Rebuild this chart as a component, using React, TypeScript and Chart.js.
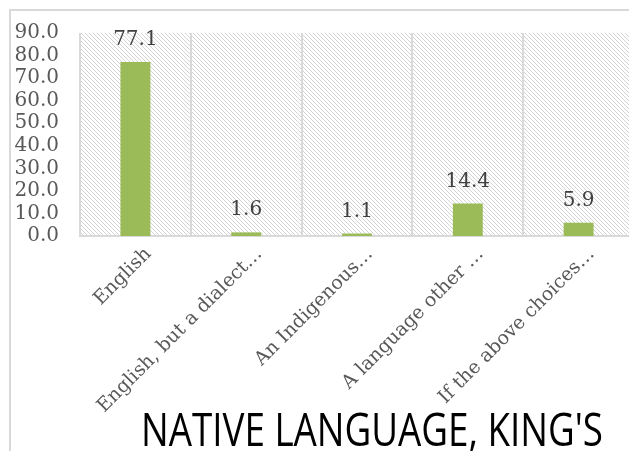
import React, { useEffect, useRef } from "react";
import { Chart, registerables } from "chart.js";

Chart.register(...registerables);

const categories = [
  "English",
  "English, but a dialect…",
  "An Indigenous…",
  "A language other …",
  "If the above choices…",
];
const values = [77.1, 1.6, 1.1, 14.4, 5.9];
const yTicks = [0, 10, 20, 30, 40, 50, 60, 70, 80, 90];
const titleText = "NATIVE LANGUAGE, KING'S";

const SERIF = "'DejaVu Serif', serif";

function makePattern(): CanvasPattern | string {
  const c = document.createElement("canvas");
  c.width = 4;
  c.height = 4;
  const x = c.getContext("2d");
  if (!x) return "#f0f0f0";
  x.fillStyle = "#ffffff";
  x.fillRect(0, 0, 4, 4);
  x.fillStyle = "#d4d4d4";
  for (let i = 0; i < 4; i++) x.fillRect(i, i, 1, 1);
  const p = x.createPattern(c, "repeat");
  return p || "#f0f0f0";
}

const bgPlugin = {
  id: "hatchBg",
  beforeDraw(chart: any) {
    const { ctx, chartArea } = chart;
    ctx.save();
    ctx.fillStyle = makePattern();
    ctx.fillRect(chartArea.left, chartArea.top, chartArea.right - chartArea.left, chartArea.bottom - chartArea.top);
    ctx.restore();
  },
};

const labelPlugin = {
  id: "valueLabels",
  afterDatasetsDraw(chart: any) {
    const { ctx } = chart;
    const meta = chart.getDatasetMeta(0);
    ctx.save();
    ctx.font = `20px ${SERIF}`;
    ctx.fillStyle = "#404040";
    ctx.textAlign = "center";
    ctx.textBaseline = "alphabetic";
    meta.data.forEach((bar: any, i: number) => {
      ctx.fillText(values[i].toFixed(1), bar.x, bar.y - 17);
    });
    ctx.restore();
  },
};

const titlePlugin = {
  id: "bottomTitle",
  afterDraw(chart: any) {
    const { ctx } = chart;
    ctx.save();
    ctx.font = `46px 'Open Sans', sans-serif`;
    ctx.fillStyle = "#000000";
    ctx.textAlign = "center";
    ctx.textBaseline = "alphabetic";
    ctx.fillText(titleText, 372, 446, 462);
    ctx.restore();
  },
};

export default function App() {
  const ref = useRef<HTMLCanvasElement | null>(null);
  useEffect(() => {
    if (!ref.current) return;
    const chart = new Chart(ref.current, {
      type: "bar",
      data: {
        labels: categories,
        datasets: [
          {
            data: values,
            backgroundColor: "#9BBB59",
            borderWidth: 0,
            barPercentage: 0.27,
            categoryPercentage: 1,
          },
        ],
      },
      options: {
        responsive: false,
        animation: false,
        devicePixelRatio: 1,
        layout: { padding: { top: 29, right: 6, left: 0, bottom: 0 } },
        plugins: {
          legend: { display: false },
          tooltip: { enabled: false },
          title: { display: false },
        },
        scales: {
          x: {
            offset: true,
            grid: {
              display: true,
              offset: true,
              color: "#D9D9D9",
              lineWidth: 2,
              drawTicks: false,
            },
            border: { display: true, color: "#D9D9D9", width: 2 },
            ticks: {
              autoSkip: false,
              maxRotation: 45,
              minRotation: 45,
              padding: 7,
              labelOffset: 13,
              color: "#595959",
              font: { family: SERIF, size: 19 },
            },
            afterFit(scale: any) {
              scale.height = 215;
            },
          },
          y: {
            min: 0,
            max: 90,
            afterBuildTicks(scale: any) {
              scale.ticks = yTicks.map((v) => ({ value: v }));
            },
            grid: { display: false, drawTicks: false },
            border: { display: false },
            ticks: {
              autoSkip: false,
              padding: 21,
              color: "#595959",
              font: { family: SERIF, size: 20 },
              callback: (v: any) => Number(v).toFixed(1),
            },
            afterFit(scale: any) {
              scale.width = 80;
            },
          },
        },
      },
      plugins: [bgPlugin, labelPlugin, titlePlugin],
    });
    return () => chart.destroy();
  }, []);

  return (
    <div
      style={{
        position: "fixed",
        left: 0,
        top: 0,
        width: 629,
        height: 451,
        overflow: "hidden",
        background: "#ffffff",
      }}
    >
      <div
        style={{
          position: "absolute",
          left: 9,
          top: 9,
          width: 700,
          height: 500,
          borderLeft: "2px solid #D9D9D9",
          borderTop: "2px solid #D9D9D9",
        }}
      />
      <canvas
        ref={ref}
        width={640}
        height={451}
        style={{ position: "absolute", left: 0, top: 0, width: 640, height: 451 }}
      />
    </div>
  );
}
